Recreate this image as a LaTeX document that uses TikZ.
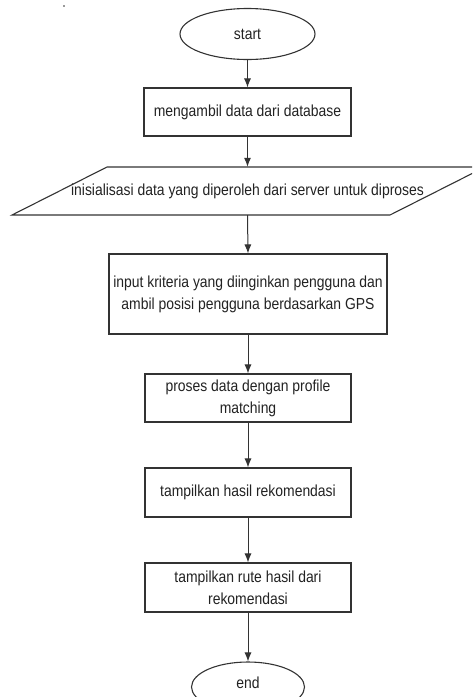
\documentclass[tikz,border=0pt]{standalone}
\usepackage{fontspec}
\setmainfont[FakeStretch=0.87]{Liberation Sans}
\usetikzlibrary{shapes.geometric,arrows.meta}
\definecolor{ln}{HTML}{333333}
\definecolor{tx}{HTML}{222222}
\begin{document}
\begin{tikzpicture}[x=1pt,y=-1pt,
  every node/.style={font=\fontsize{16}{22}\selectfont, text=tx},
  term/.style={ellipse, draw=ln, line width=1.1pt, inner sep=0pt},
  procbox/.style={rectangle, draw=ln, line width=1.1pt, inner sep=0pt, align=center},
  flow/.style={draw=ln, line width=1pt, -{Latex[length=9pt,width=7pt]}}]
\useasboundingbox (0,0) rectangle (472,697);
\clip (0,0) rectangle (472,697);
\fill[ln] (64,6) circle (0.8);
\node[term, minimum width=135pt, minimum height=51pt] (start) at (247.5,34) {start};
\node[procbox, minimum width=207pt, minimum height=48pt] (b1) at (247.5,112) {mengambil data dari database};
\draw[ln, line width=1.1pt] (12,215) -- (107,167) -- (485,167) -- (390,215) -- cycle;
\node[inner sep=0pt, minimum width=300pt, minimum height=48pt] (p) at (247.5,191) {inisialisasi data yang diperoleh dari server untuk diproses};
\node[procbox, minimum width=278pt, minimum height=80pt] (b2) at (248,294) {input kriteria yang diinginkan pengguna dan\\ambil posisi pengguna berdasarkan GPS};
\node[procbox, minimum width=206pt, minimum height=48pt] (b3) at (248,398) {proses data dengan profile\\matching};
\node[procbox, minimum width=206pt, minimum height=49pt] (b4) at (248,492.5) {tampilkan hasil rekomendasi};
\node[procbox, minimum width=206pt, minimum height=49pt] (b5) at (248,587.5) {tampilkan rute hasil dari\\rekomendasi};
\node[term, minimum width=113pt, minimum height=50pt] (end) at (248,687) {};
\node (endtxt) at (248,683) {end};
\draw[flow] (start.south) -- (b1.north);
\draw[flow] (b1.south) -- (p.north);
\draw[flow] (p.south) -- (b2.north);
\draw[flow] (b2.south) -- (b3.north);
\draw[flow] (b3.south) -- (b4.north);
\draw[flow] (b4.south) -- (b5.north);
\draw[flow] (b5.south) -- (end.north);
\end{tikzpicture}
\end{document}
